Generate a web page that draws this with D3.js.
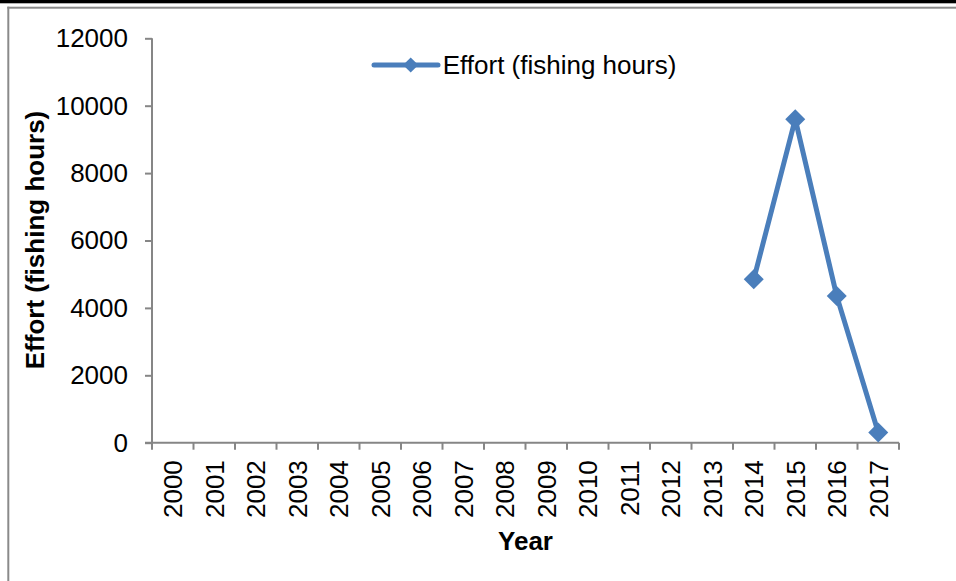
<!DOCTYPE html>
<html>
<head>
<meta charset="utf-8">
<script src="https://cdn.jsdelivr.net/npm/d3@7"></script>
<style>
  body { margin: 0; background: #fff; }
  svg { display: block; font-family: "Liberation Sans", Arial, sans-serif; }
</style>
</head>
<body>
<svg id="chart" width="956" height="581"></svg>
<script>
var years = ["2000","2001","2002","2003","2004","2005","2006","2007","2008",
             "2009","2010","2011","2012","2013","2014","2015","2016","2017"];
var effort = [null,null,null,null,null,null,null,null,null,
              null,null,null,null,null,4850,9600,4350,300];
var yTicks = [0, 2000, 4000, 6000, 8000, 10000, 12000];
var seriesName = "Effort (fishing hours)";

var lineColor = "#4A7EBB";
var axisColor = "#868686";

var svg = d3.select("#chart");

// page frame
svg.append("rect").attr("x", 0).attr("y", 0).attr("width", 956).attr("height", 3.3).attr("fill", "#000");
svg.append("rect").attr("x", 7.3).attr("y", 6.7).attr("width", 949).attr("height", 2).attr("fill", "#8a8a8a");
svg.append("rect").attr("x", 7.3).attr("y", 6.7).attr("width", 2).attr("height", 575).attr("fill", "#8a8a8a");

var x = d3.scaleBand().domain(years).range([152, 899]);
var y = d3.scaleLinear().domain([0, 12000]).range([442.7, 38.3]);

// y axis
var yAxis = svg.append("g")
  .attr("transform", "translate(152,0)")
  .call(d3.axisLeft(y).tickValues(yTicks).tickSize(7).tickPadding(17).tickFormat(d3.format("d")));
yAxis.select(".domain").attr("stroke", axisColor).attr("stroke-width", 2).attr("d", "M0," + y(12000) + "V" + y(0));
yAxis.selectAll(".tick line").attr("stroke", axisColor).attr("stroke-width", 2);
yAxis.selectAll(".tick text").attr("font-size", 26).attr("fill", "#000").attr("font-family", "Liberation Sans, Arial");

// x axis
var xg = svg.append("g").attr("transform", "translate(0," + y(0) + ")");
xg.append("line").attr("x1", 145).attr("x2", x.range()[1])
  .attr("stroke", axisColor).attr("stroke-width", 2);
var bounds = years.map(function(d) { return x(d); }).concat([x.range()[1]]);
xg.selectAll(".xtick").data(bounds).enter().append("line")
  .attr("x1", function(d) { return d; }).attr("x2", function(d) { return d; })
  .attr("y1", 0).attr("y2", 7)
  .attr("stroke", axisColor).attr("stroke-width", 2);
xg.selectAll(".xlab").data(years).enter().append("text")
  .attr("transform", function(d) { return "translate(" + (x(d) + x.bandwidth() / 2) + ",17.5) rotate(-90)"; })
  .attr("dy", "0.36em")
  .attr("text-anchor", "end")
  .attr("font-size", 26)
  .text(function(d) { return d; });

// axis titles
svg.append("text")
  .attr("transform", "translate(44,240) rotate(-90)")
  .attr("text-anchor", "middle")
  .attr("font-size", 26).attr("font-weight", "bold")
  .text(seriesName);
svg.append("text")
  .attr("x", (x.range()[0] + x.range()[1]) / 2).attr("y", 550)
  .attr("text-anchor", "middle")
  .attr("font-size", 26).attr("font-weight", "bold")
  .text("Year");

// series
var pts = years.map(function(d, i) { return {year: d, value: effort[i]}; });
var line = d3.line()
  .defined(function(d) { return d.value != null; })
  .x(function(d) { return x(d.year) + x.bandwidth() / 2; })
  .y(function(d) { return y(d.value); });
svg.append("path").datum(pts)
  .attr("d", line)
  .attr("fill", "none").attr("stroke", lineColor).attr("stroke-width", 5)
  .attr("stroke-linejoin", "round");

var diamond = d3.symbol().type(d3.symbolSquare).size(200);
svg.selectAll(".marker").data(pts.filter(function(d) { return d.value != null; }))
  .enter().append("path")
  .attr("d", diamond)
  .attr("transform", function(d) { return "translate(" + (x(d.year) + x.bandwidth() / 2) + "," + y(d.value) + ") rotate(45)"; })
  .attr("fill", lineColor);

// legend
var lg = svg.append("g").attr("transform", "translate(374,65)");
lg.append("line").attr("x1", 0).attr("x2", 64).attr("y1", 0).attr("y2", 0)
  .attr("stroke", lineColor).attr("stroke-width", 5).attr("stroke-linecap", "round");
lg.append("path").attr("d", d3.symbol().type(d3.symbolSquare).size(115))
  .attr("transform", "translate(36.7,0) rotate(45)").attr("fill", lineColor);
lg.append("text").attr("x", 68.7).attr("y", 0).attr("dy", "0.35em")
  .attr("font-size", 26).text(seriesName);
</script>
</body>
</html>
